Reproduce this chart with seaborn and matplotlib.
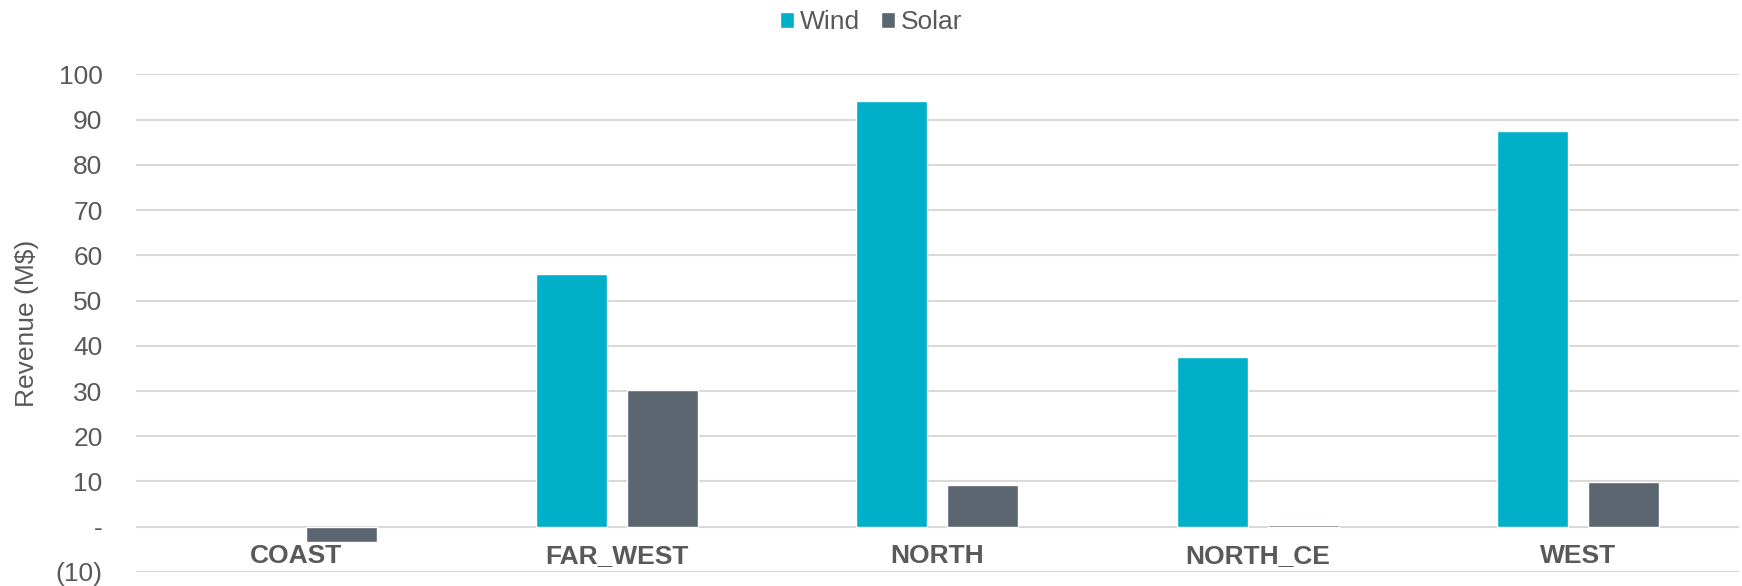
import matplotlib
matplotlib.use("Agg")
import matplotlib.pyplot as plt
import seaborn as sns
import pandas as pd
import numpy as np

regions = ["COAST", "FAR_WEST", "NORTH", "NORTH_CE", "WEST"]
wind = [np.nan, 55.8, 94.1, 37.6, 87.5]
solar = [-3.4, 30.2, 9.3, 0.3, 9.8]
series = ["Wind", "Solar"]
colors = ["#00AFC8", "#5B6670"]
yticks = [-10, 0, 10, 20, 30, 40, 50, 60, 70, 80, 90, 100]
ytick_labels = ["(10)", "-", "10", "20", "30", "40", "50", "60", "70", "80", "90", "100"]

df = pd.DataFrame({
    "region": regions * 2,
    "series": [series[0]] * len(regions) + [series[1]] * len(regions),
    "value": wind + solar,
})

sns.set_theme(style="white")
plt.rcParams["font.family"] = ["Liberation Sans", "DejaVu Sans"]
grey = "#595959"
fs = 19

fig = plt.figure(figsize=(17.42, 5.86), dpi=100)
ax = fig.add_axes([0.078, 0.024, 0.920, 0.849])

sns.barplot(data=df, x="region", y="value", hue="series", order=regions,
            hue_order=series, palette=colors, width=0.568, gap=0.22,
            saturation=1, ax=ax, legend=True)

ax.set_ylim(-10, 100)
ax.set_yticks(yticks)
ax.set_yticklabels(ytick_labels)
ax.yaxis.grid(True, color="#D9D9D9", linewidth=1.5)
ax.set_axisbelow(True)
for s in ax.spines.values():
    s.set_visible(False)

ax.tick_params(axis="y", length=0, pad=24, labelsize=fs, labelcolor=grey)
ax.tick_params(axis="x", length=0, pad=-20, labelsize=fs, labelcolor=grey)
for lbl in ax.get_xticklabels():
    lbl.set_fontweight("bold")
ax.set_xlabel("")
ax.set_ylabel("Revenue (M$)", fontsize=fs, color=grey, labelpad=12)

handles, labels = ax.get_legend_handles_labels()
ax.legend(handles, labels, loc="center", bbox_to_anchor=(0.5, 0.962),
          bbox_transform=fig.transFigure, ncol=2, frameon=False,
          fontsize=fs, handlelength=0.55, handleheight=0.55,
          handletextpad=0.2, columnspacing=0.8, labelcolor=grey)

fig.savefig("out.png", dpi=100)
